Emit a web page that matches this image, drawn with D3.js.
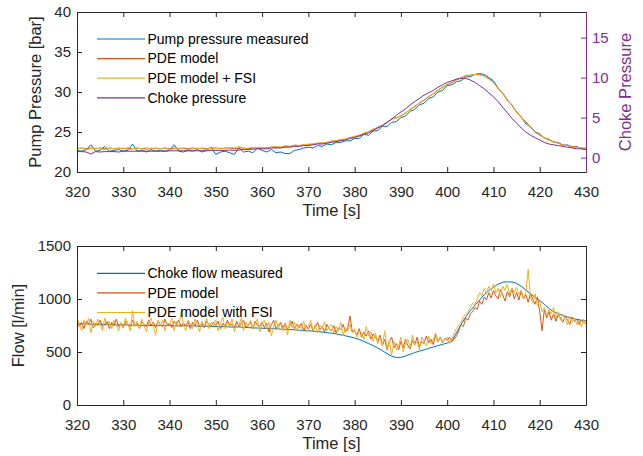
<!DOCTYPE html>
<html>
<head>
<meta charset="utf-8">
<script src="https://cdn.jsdelivr.net/npm/d3@7"></script>
<style>
  body { margin:0; background:#fff; }
  svg { display:block; font-family:"Liberation Sans", Arial, Helvetica, sans-serif; }
  .tick text { fill:#262626; font-size:15px; }
  .tick line, .domain { stroke:#262626; }
</style>
</head>
<body>
<div id="canvas"></div>
<script>
// time grids (1 s and 0.5 s sampling)
var timeCoarse = d3.range(320, 431);
var timeFine = d3.range(0, 221).map(function(i){ return 320 + i*0.5; });

var xTicks = [320,330,340,350,360,370,380,390,400,410,420,430];
var pressureTicks = [20,25,30,35,40];
var chokeTicks = [0,5,10,15];
var flowTicks = [0,500,1000,1500];

// top plot, 1 s
var pumpMeasured = [
  22.7,22.6,22.8,23.4,22.6,22.7,23.2,22.6,22.7,22.8,
  22.6,22.7,23.5,22.6,22.7,22.5,22.8,22.6,22.7,22.6,
  22.7,23.4,22.6,22.5,22.7,22.6,22.8,22.5,22.7,23.1,
  22.2,22.5,22.6,22.4,22.2,23.0,22.5,22.6,22.4,23.0,
  22.7,22.5,22.8,22.4,22.5,22.3,22.3,22.7,22.8,23.0,
  23.1,23.0,23.3,23.2,23.5,23.4,23.7,23.7,23.9,23.9,
  24.2,24.2,24.7,24.6,25.1,25.2,25.7,25.7,26.2,26.3,
  26.8,27.0,27.6,27.8,28.4,28.6,29.2,29.4,30.0,30.2,
  30.8,30.9,31.3,31.4,31.9,31.9,32.2,32.3,32.2,31.8,
  31.4,30.5,29.9,29.0,28.4,27.5,26.9,26.0,25.7,25.0,
  24.8,24.2,24.1,23.7,23.7,23.3,23.4,23.1,23.2,22.9,
  22.9
];
var pumpPde = [
  22.9,23.0,22.9,23.0,22.9,23.0,22.9,23.0,22.9,23.0,
  22.9,23.0,22.9,23.0,22.9,23.0,22.9,23.0,22.9,23.0,
  22.9,23.0,22.9,23.0,22.9,23.0,22.9,23.0,22.9,23.0,
  23.0,22.9,23.0,23.0,22.9,23.0,23.0,22.9,23.0,23.0,
  23.0,23.0,23.1,23.1,23.1,23.2,23.2,23.3,23.3,23.4,
  23.4,23.5,23.6,23.6,23.7,23.8,23.9,24.0,24.1,24.3,
  24.4,24.6,24.8,25.0,25.3,25.6,25.8,26.2,26.6,26.8,
  27.0,27.4,27.8,28.2,28.6,29.0,29.4,29.8,30.2,30.6,
  30.9,31.2,31.5,31.8,32.0,32.1,32.2,32.2,32.0,31.7,
  31.2,30.5,29.8,29.0,28.3,27.5,26.8,26.3,25.6,25.0,
  24.6,24.3,24.0,23.8,23.6,23.4,23.3,23.2,23.1,23.0,
  23.0
];
var pumpFsi = [
  22.9,23.0,22.8,22.9,23.0,22.9,22.8,23.0,22.9,22.9,
  23.0,22.8,22.9,23.0,22.9,22.8,23.0,22.9,22.9,23.0,
  22.8,22.9,23.0,22.9,22.8,22.9,23.0,22.9,22.8,23.0,
  22.9,23.0,22.9,23.1,23.0,23.2,22.9,23.0,23.1,23.0,
  23.1,23.0,23.1,23.2,23.1,23.3,23.2,23.4,23.3,23.4,
  23.5,23.5,23.6,23.7,23.7,23.9,23.9,24.1,24.1,24.3,
  24.5,24.5,24.9,25.0,25.4,25.5,25.9,26.1,26.7,26.7,
  27.1,27.3,27.9,28.1,28.7,28.9,29.5,29.7,30.3,30.5,
  31.0,31.1,31.6,31.7,32.1,32.1,32.2,32.1,32.0,31.6,
  31.2,30.4,29.9,28.9,28.4,27.4,26.9,26.1,25.7,24.9,
  24.7,24.2,24.1,23.7,23.6,23.3,23.3,23.1,23.1,23.0,
  22.9
];
var chokePressure = [
  0.75,0.75,0.70,0.45,0.75,0.70,0.75,0.75,0.75,0.70,
  0.8,0.8,0.8,0.8,0.8,0.8,0.8,0.8,0.8,0.8,
  0.85,0.85,0.85,0.85,0.85,0.85,0.85,0.85,0.85,0.9,
  0.9,0.9,0.9,0.95,0.9,0.95,1.0,1.0,1.05,1.1,
  1.1,1.1,1.2,1.2,1.2,1.3,1.3,1.4,1.4,1.5,
  1.5,1.6,1.7,1.7,1.8,1.9,2.0,2.1,2.2,2.4,
  2.5,2.7,2.9,3.1,3.4,3.7,4.0,4.4,4.8,5.3,
  5.7,6.1,6.6,7.0,7.4,7.8,8.1,8.4,8.8,9.1,
  9.4,9.6,9.8,9.9,9.9,9.7,9.4,9.0,8.6,8.1,
  7.6,7.0,6.3,5.6,4.9,4.3,3.7,3.2,2.8,2.5,
  2.2,1.9,1.7,1.6,1.5,1.4,1.3,1.2,1.1,1.1,
  1.0
];

// bottom plot
var flowMeasured = [
  770,765,768,762,760,763,758,760,757,755,
  758,754,752,755,750,752,749,751,748,750,
  752,748,746,749,745,747,744,742,744,740,
  741,738,740,736,735,737,733,730,728,726,
  724,722,720,719,716,714,712,709,706,703,
  700,697,693,688,683,677,670,662,653,643,
  632,618,600,580,560,538,512,485,460,448,
  450,462,478,495,508,520,535,548,560,572,
  585,600,680,760,830,890,940,990,1040,1080,
  1110,1140,1158,1162,1160,1148,1120,1085,1050,1015,
  985,950,910,880,860,845,830,818,808,800,
  795
];
var flowPde = [
  800,740,780,720,790,760,810,730,770,750,
  800,740,760,790,720,780,750,810,740,770,
  730,790,760,740,800,750,770,720,790,760,
  740,800,750,780,730,790,760,740,810,750,
  770,730,790,760,800,740,770,750,790,720,
  780,750,800,740,770,730,790,760,740,780,
  750,790,720,770,740,800,750,760,730,790,
  740,770,800,730,760,780,720,790,750,740,
  780,730,770,690,760,800,720,750,780,730,
  770,710,750,790,720,760,730,770,700,750,
  720,760,700,740,780,710,740,690,760,720,
  700,750,680,730,710,760,690,720,840,690,
  700,660,720,640,690,650,700,620,670,640,
  600,660,560,620,520,600,640,540,580,520,
  600,540,620,560,530,610,570,640,550,600,
  580,650,590,620,570,660,600,640,590,630,
  610,640,600,620,650,700,760,740,820,800,
  860,880,920,900,980,950,1020,990,1060,1010,
  1080,1030,1000,1090,1040,980,1070,1020,1100,1000,
  1060,990,1080,1000,1040,970,1050,1000,950,1020,
  880,700,900,820,880,800,860,790,850,820,
  780,840,800,760,830,790,810,760,800,780,
  770
];
var flowFsi = [
  830,760,700,800,750,820,680,790,740,810,
  760,700,820,750,790,720,800,760,700,780,
  740,820,760,700,890,740,790,720,810,750,
  690,780,820,740,660,800,750,800,700,780,
  760,820,700,790,740,880,750,700,800,760,
  720,810,760,690,790,740,820,720,780,750,
  800,700,770,830,720,780,740,810,690,770,
  750,820,700,780,740,800,720,770,810,690,
  760,800,720,780,650,740,800,720,770,700,
  760,660,800,730,780,700,760,720,790,690,
  740,800,700,760,680,750,720,780,700,740,
  760,680,740,700,780,650,730,700,760,680,
  720,640,700,680,620,740,650,690,600,680,
  580,640,560,700,530,610,470,600,520,560,
  640,500,580,620,540,660,570,600,520,640,
  600,560,650,580,620,680,590,640,600,620,
  640,580,620,680,720,760,780,830,860,880,
  920,960,940,1000,1060,1030,1100,1050,1120,1080,
  1140,1060,1100,1020,1120,1080,1140,1040,1100,1060,
  1110,1040,1080,1000,1060,1280,1020,960,1050,940,
  980,880,920,840,900,860,920,820,880,800,
  860,800,760,840,780,820,760,800,740,810,
  760
];

var blue = '#0072BD', orange = '#D95319', yellow = '#EDB120', purple = '#7E2F8E';

var outerWidth = 643, outerHeight = 456;
var m = {l:77, r:57};
var w = outerWidth - m.l - m.r;   // 509

var svg = d3.select('#canvas').append('svg')
    .attr('width', outerWidth)
    .attr('height', outerHeight);

var x = d3.scaleLinear().domain([320,430]).range([0,w]);

function panel(y0, h, name){
    var g = svg.append('g').attr('transform','translate(' + m.l + ',' + y0 + ')');
    svg.append('clipPath').attr('id','clip-' + name)
        .append('rect').attr('width', w).attr('height', h);
    g.append('g').attr('class','lines').attr('clip-path','url(#clip-' + name + ')');
    // x axis bottom
    g.append('g').attr('transform','translate(0,' + h + ')')
        .call(d3.axisBottom(x).tickValues(xTicks).tickSize(-5).tickSizeOuter(0).tickPadding(14));
    // mirrored top ticks
    g.append('g')
        .call(d3.axisTop(x).tickValues(xTicks).tickSize(-5).tickSizeOuter(0).tickFormat(''));
    return g;
}

function drawLine(g, xs, ys, yScale, color){
    var line = d3.line()
        .x(function(d,i){ return x(xs[i]); })
        .y(function(d){ return yScale(d); });
    g.select('.lines').append('path')
        .datum(ys)
        .attr('fill','none')
        .attr('stroke', color)
        .attr('stroke-width', 1)
        .attr('stroke-linejoin','round')
        .attr('d', line);
}

function legend(g, items, y0){
    items.forEach(function(it, i){
        var y = y0 + i*19.6;
        g.append('line')
            .attr('x1', 20).attr('x2', 68)
            .attr('y1', y).attr('y2', y)
            .attr('stroke', it.color).attr('stroke-width', 1.2);
        g.append('text')
            .attr('x', 70.5).attr('y', y + 4.8)
            .style('font-size','14px').style('fill','#000')
            .text(it.label);
    });
}

// ---- top plot
var hTop = 160;
var topG = panel(12, hTop, 'top');
var yP = d3.scaleLinear().domain([20,40]).range([hTop,0]);
var yC = d3.scaleLinear().domain([-1.8,18.2]).range([hTop,0]);

drawLine(topG, timeCoarse, pumpMeasured, yP, blue);
drawLine(topG, timeCoarse, pumpPde, yP, orange);
drawLine(topG, timeCoarse, pumpFsi, yP, yellow);
drawLine(topG, timeCoarse, chokePressure, yC, purple);

topG.append('g')
    .call(d3.axisLeft(yP).tickValues(pressureTicks).tickSize(-5).tickSizeOuter(0).tickPadding(6));
var rightAx = topG.append('g').attr('transform','translate(' + w + ',0)')
    .call(d3.axisRight(yC).tickValues(chokeTicks).tickSize(-5).tickSizeOuter(0).tickPadding(6));
rightAx.selectAll('.domain, .tick line').style('stroke', purple);
rightAx.selectAll('.tick text').style('fill', purple);

topG.append('text')
    .attr('transform','translate(-36,' + (hTop/2) + ') rotate(-90)')
    .attr('text-anchor','middle')
    .style('font-size','16.5px').style('fill','#262626')
    .text('Pump Pressure [bar]');
topG.append('text')
    .attr('transform','translate(' + (w + 45) + ',' + (hTop/2) + ') rotate(-90)')
    .attr('text-anchor','middle')
    .style('font-size','16.5px').style('fill', purple)
    .text('Choke Pressure');
topG.append('text')
    .attr('x', w/2).attr('y', hTop + 44)
    .attr('text-anchor','middle')
    .style('font-size','16.5px').style('fill','#262626')
    .text('Time [s]');

legend(topG, [
    {label:'Pump pressure measured', color:blue},
    {label:'PDE model', color:orange},
    {label:'PDE model + FSI', color:yellow},
    {label:'Choke pressure', color:purple}
], 27);

// ---- bottom plot
var hBot = 159;
var botG = panel(246, hBot, 'bot');
var yF = d3.scaleLinear().domain([0,1500]).range([hBot,0]);

drawLine(botG, timeCoarse, flowMeasured, yF, blue);
drawLine(botG, timeFine, flowPde, yF, orange);
drawLine(botG, timeFine, flowFsi, yF, yellow);

botG.append('g')
    .call(d3.axisLeft(yF).tickValues(flowTicks).tickFormat(d3.format('d'))
        .tickSize(-5).tickSizeOuter(0).tickPadding(6));
botG.append('g').attr('transform','translate(' + w + ',0)')
    .call(d3.axisRight(yF).tickValues(flowTicks).tickSize(-5).tickSizeOuter(0).tickFormat(''));

botG.append('text')
    .attr('transform','translate(-53,' + (hBot/2) + ') rotate(-90)')
    .attr('text-anchor','middle')
    .style('font-size','16.5px').style('fill','#262626')
    .text('Flow [l/min]');
botG.append('text')
    .attr('x', w/2).attr('y', hBot + 44)
    .attr('text-anchor','middle')
    .style('font-size','16.5px').style('fill','#262626')
    .text('Time [s]');

legend(botG, [
    {label:'Choke flow measured', color:blue},
    {label:'PDE model', color:orange},
    {label:'PDE model with FSI', color:yellow}
], 27.3);
</script>
</body>
</html>
